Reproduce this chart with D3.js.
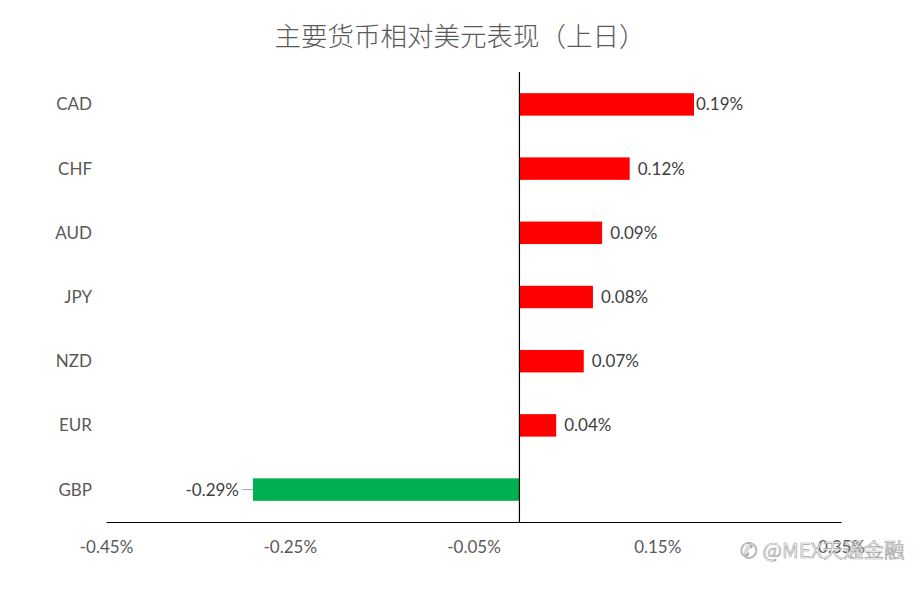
<!DOCTYPE html>
<html><head><meta charset="utf-8">
<script src="https://cdn.jsdelivr.net/npm/d3@7/dist/d3.min.js"></script>
<style>body{margin:0;background:#fff}</style>
</head><body><svg id="c" width="920" height="590"></svg>
<script>
const title = "主要货币相对美元表现（上日）";
const categories = ["CAD","CHF","AUD","JPY","NZD","EUR","GBP"];
const values = [0.19,0.12,0.09,0.08,0.07,0.04,-0.29];
const tickValues = [-0.45,-0.25,-0.05,0.15,0.35];
const watermark = "@MEX天通金融";

const svg = d3.select("#c");
const font = "Lato,'Noto Sans CJK SC',sans-serif";
const pct = d => d3.format(".2f")(d).replace("\u2212","-")+"%";
const x = d3.scaleLinear().domain([-0.45,0.35]).range([106,841]);
const y = d3.scaleBand().domain(categories).range([72,522]).paddingInner(0.65).paddingOuter(0.33);

svg.append("text").attr("x",460).attr("y",46).attr("text-anchor","middle")
  .attr("font-family","'Noto Sans CJK SC',sans-serif").attr("font-size",26.5).attr("font-weight",300)
  .attr("fill","#595959").text(title);

const data = categories.map((c,i)=>({c,v:values[i]}));
svg.selectAll("rect.bar").data(data).join("rect").attr("class","bar")
  .attr("x",d=>x(Math.min(0,d.v))).attr("width",d=>Math.abs(x(d.v)-x(0)))
  .attr("y",d=>y(d.c)).attr("height",y.bandwidth())
  .attr("fill",d=>d.v>=0?"#ff0000":"#00b050");

// axis
const ax = svg.append("g").attr("transform","translate(0,522)")
  .call(d3.axisBottom(x).tickValues(tickValues).tickSize(0).tickPadding(19).tickFormat(pct));
ax.select(".domain").attr("stroke","#000").attr("stroke-width",1.2);
ax.selectAll("text").attr("font-family",font).attr("font-size",17).attr("fill","#595959");

// zero line
svg.append("line").attr("x1",x(0)).attr("x2",x(0)).attr("y1",72).attr("y2",522)
  .attr("stroke","#000").attr("stroke-width",1.2);

// category labels
svg.selectAll("text.cat").data(data).join("text").attr("class","cat")
  .attr("x",92).attr("y",d=>y(d.c)+y.bandwidth()/2).attr("dy","0.35em")
  .attr("text-anchor","end").attr("font-family",font).attr("font-size",17)
  .attr("fill","#595959").text(d=>d.c);

// value labels
svg.selectAll("text.val").data(data).join("text").attr("class","val")
  .attr("x",d=>d.v>=0 ? x(d.v)+(d.v>0.15?2:8) : x(d.v)-14)
  .attr("y",d=>y(d.c)+y.bandwidth()/2).attr("dy","0.35em")
  .attr("text-anchor",d=>d.v>=0?"start":"end").attr("font-family",font).attr("font-size",17)
  .attr("fill","#404040").text(d=>pct(d.v));

// leader line for negative label
svg.selectAll("line.lead").data(data.filter(d=>d.v<0)).join("line").attr("class","lead")
  .attr("x1",d=>x(d.v)-11).attr("x2",d=>x(d.v)).attr("y1",d=>y(d.c)+y.bandwidth()/2)
  .attr("y2",d=>y(d.c)+y.bandwidth()/2).attr("stroke","#a6a6a6").attr("stroke-width",1);

// watermark
svg.append("text").attr("x",740).attr("y",558).attr("font-family","'Noto Sans CJK SC',sans-serif")
  .attr("font-size",20.5).attr("fill","#fff").attr("stroke","#9a9a9a").attr("stroke-width",0.7)
  .attr("opacity",0.9).text("✆ "+watermark);
</script></body></html>
